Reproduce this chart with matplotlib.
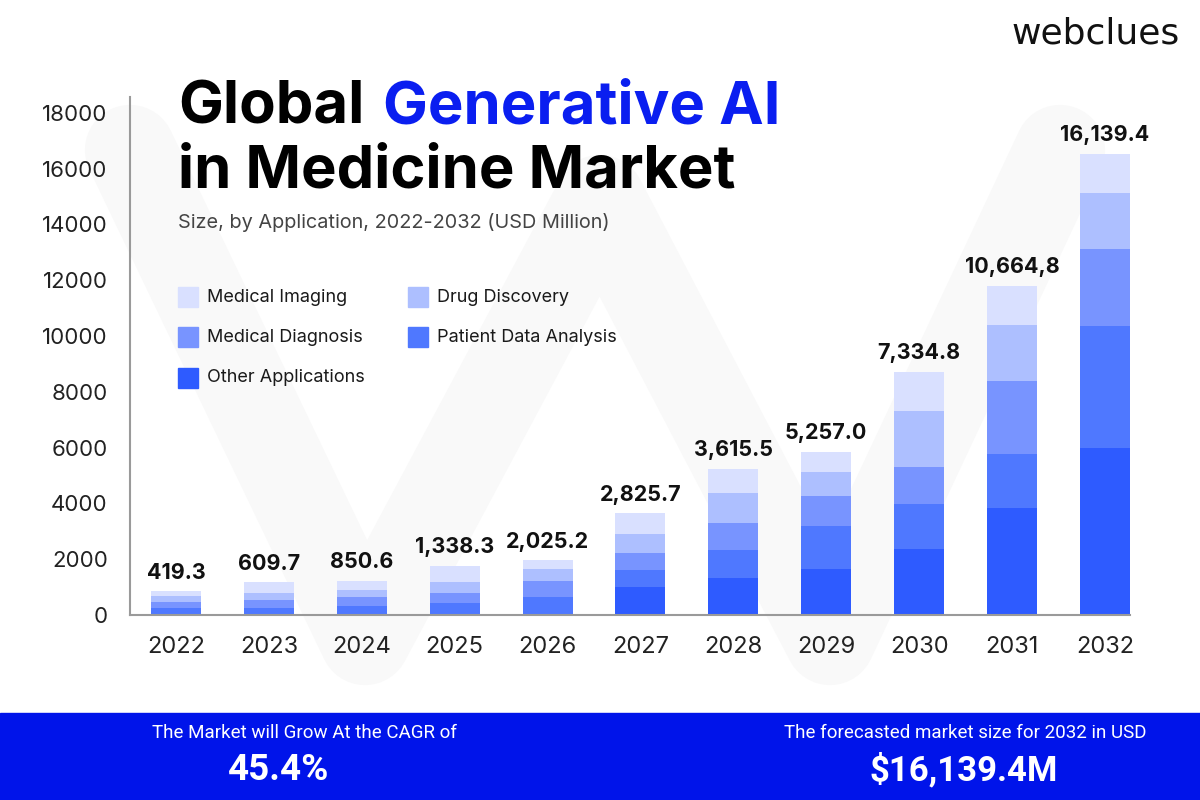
import numpy as np
import matplotlib.pyplot as plt
from matplotlib.patches import Rectangle

# data (USD million, stacked segments)
years = ["2022", "2023", "2024", "2025", "2026", "2027", "2028", "2029", "2030", "2031", "2032"]
medical_imaging = [190, 390, 320, 575, 320, 750, 860, 720, 1400, 1400, 1400]
drug_discovery = [210, 250, 250, 395, 430, 680, 1075, 860, 2000, 2010, 2005]
medical_diagnosis = [220, 290, 320, 360, 575, 610, 970, 1075, 1330, 2620, 2760]
patient_data = [240, 250, 330, 430, 645, 610, 1000, 1540, 1610, 1935, 4375]
other_apps = [0, 0, 0, 0, 0, 1000, 1330, 1650, 2370, 3830, 5985]
total_labels = ["419.3", "609.7", "850.6", "1,338.3", "2,025.2", "2,825.7",
                "3,615.5", "5,257.0", "7,334.8", "10,664,8", "16,139.4"]
yticks = [0, 2000, 4000, 6000, 8000, 10000, 12000, 14000, 16000, 18000]

series_names = ["Other Applications", "Patient Data Analysis", "Medical Diagnosis",
                "Drug Discovery", "Medical Imaging"]
series_vals = [other_apps, patient_data, medical_diagnosis, drug_discovery, medical_imaging]
colors = {"Medical Imaging": "#d9e0ff", "Drug Discovery": "#adbfff",
          "Medical Diagnosis": "#7894ff", "Patient Data Analysis": "#4f78ff",
          "Other Applications": "#2e5bff"}

# faint "w" watermark behind the chart (pixel coords)
wm_x = [130, 365, 600, 830, 1060]
wm_y = [150, 640, 200, 640, 150]

W, H = 1200, 800
def fx(x):
    return x / W
def fy(y):
    return 1 - y / H

FONT = "Inter"
fig = plt.figure(figsize=(12, 8), dpi=100)
fig.patch.set_facecolor("white")

bg = fig.add_axes([0, 0, 1, 1], zorder=0)
bg.set_xlim(0, W)
bg.set_ylim(H, 0)
bg.axis("off")
bg.plot(wm_x, wm_y, color="#f9f9f9", lw=65, solid_capstyle="round", solid_joinstyle="round")

ax = fig.add_axes([fx(130), fy(615), (1130 - 130) / W, (615 - 97) / H], zorder=1)
ax.patch.set_alpha(0)

x = np.arange(len(years))
bottom = np.zeros(len(years))
for name, vals in zip(series_names, series_vals):
    ax.bar(x, vals, bottom=bottom, width=0.538, color=colors[name], label=name, zorder=2)
    bottom += np.array(vals)

for i, lab in enumerate(total_labels):
    ax.annotate(lab, (x[i], bottom[i]), xytext=(0, 9), textcoords="offset points",
                ha="center", va="baseline", fontsize=15.5, fontweight="bold",
                family=FONT, color="#111111")

ax.set_xlim(-0.495, 10.27)
ax.set_ylim(0, 18566)
ax.set_xticks(x)
ax.set_xticklabels(years, family=FONT, fontsize=17, color="#222222")
ax.set_yticks(yticks)
ax.set_yticklabels([str(v) for v in yticks], family=FONT, fontsize=16, color="#222222")
ax.tick_params(axis="both", length=0)
ax.tick_params(axis="y", pad=16)
ax.tick_params(axis="x", pad=15)
for s in ["top", "right"]:
    ax.spines[s].set_visible(False)
for s in ["left", "bottom"]:
    ax.spines[s].set_color("#9a9a9a")
    ax.spines[s].set_linewidth(1.5)

# title block
fig.text(fx(178), fy(123), "Global", fontsize=43, fontweight="bold", family=FONT,
         color="#000000", va="baseline")
fig.text(fx(383), fy(123), "Generative AI", fontsize=43, fontweight="bold", family=FONT,
         color="#0a1ef0", va="baseline")
fig.text(fx(178), fy(188), "in Medicine Market", fontsize=43, fontweight="bold",
         family=FONT, color="#000000", va="baseline")
fig.text(fx(178), fy(223), "Size, by Application, 2022-2032 (USD Million)", fontsize=14.3,
         family=FONT, color="#444444", va="center")

# legend
leg_order = ["Medical Imaging", "Drug Discovery", "Medical Diagnosis",
             "Patient Data Analysis", "Other Applications"]
for k, name in enumerate(leg_order):
    col, row = k % 2, k // 2
    sx = 178 + col * 230
    cy = 297 + row * 40.5
    fig.patches.append(Rectangle((fx(sx), fy(cy + 10)), 20 / W, 20 / H,
                                 transform=fig.transFigure, color=colors[name], zorder=3))
    fig.text(fx(sx + 29), fy(cy), name, fontsize=13, family=FONT, color="#1a1a1a",
             va="center", zorder=3)

# logo
fig.text(fx(1180), fy(44), "webclues", fontsize=26, family="DejaVu Sans",
         color="#111111", ha="right", va="baseline")

# footer band
fig.patches.append(Rectangle((0, 0), 1, 87 / H, transform=fig.transFigure,
                             color="#0014ea", zorder=5))
fig.text(fx(304), fy(733), "The Market will Grow At the CAGR of", fontsize=13.5,
         family="Roboto", color="white", ha="center", va="center", zorder=6)
fig.text(fx(279), fy(770), "45.4%", fontsize=26.5, fontweight="bold",
         family="Roboto", color="white", ha="center", va="center", zorder=6)
fig.text(fx(965), fy(733), "The forecasted market size for 2032 in USD", fontsize=13.5,
         family="Roboto", color="white", ha="center", va="center", zorder=6)
fig.text(fx(964), fy(770), "$16,139.4M", fontsize=25, fontweight="bold",
         family="Roboto", color="white", ha="center", va="center", zorder=6)

fig.savefig("out.png", dpi=100)
